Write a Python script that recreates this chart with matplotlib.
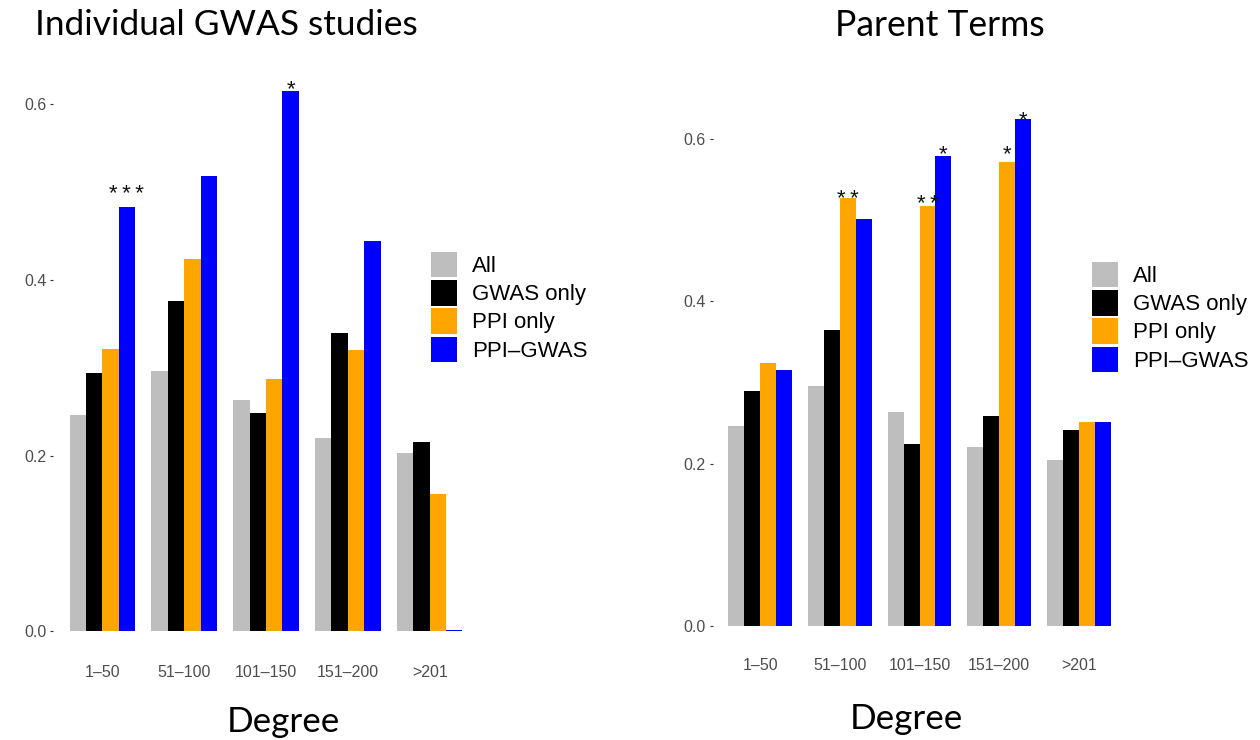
import matplotlib
matplotlib.use("Agg")
import matplotlib.pyplot as plt
import numpy as np

# ---------------- data ----------------
categories = ["1\u201350", "51\u2013100", "101\u2013150", "151\u2013200", ">201"]
series = ["All", "GWAS only", "PPI only", "PPI\u2013GWAS"]
colors = ["#BEBEBE", "#000000", "#FFA500", "#0000FF"]

left_all = [0.246, 0.296, 0.263, 0.220, 0.203]
left_gwas = [0.294, 0.376, 0.249, 0.340, 0.216]
left_ppi = [0.321, 0.424, 0.287, 0.320, 0.156]
left_ppigwas = [0.483, 0.518, 0.615, 0.444, 0.002]

right_all = [0.247, 0.296, 0.264, 0.220, 0.204]
right_gwas = [0.290, 0.365, 0.224, 0.259, 0.242]
right_ppi = [0.324, 0.527, 0.518, 0.572, 0.251]
right_ppigwas = [0.315, 0.501, 0.579, 0.625, 0.251]

# significance labels: (category index, series index, label, star height)
left_sig = [(0, 3, "***", 0.505), (2, 3, "*", 0.625)]
right_sig = [(1, 2, "**", 0.535), (2, 2, "**", 0.528), (2, 3, "*", 0.590),
             (3, 2, "*", 0.590), (3, 3, "*", 0.632)]

yticks = [0.0, 0.2, 0.4, 0.6]
ytick_labels = ["0.0", "0.2", "0.4", "0.6"]

# ---------------- figure ----------------
W, H = 1260, 740
fig = plt.figure(figsize=(W / 100, H / 100), dpi=100)

def px_rect(x0, y0, x1, y1):
    return [x0 / W, 1 - y1 / H, (x1 - x0) / W, (y1 - y0) / H]

tick_font = "Liberation Sans"
group_w = 0.8
bar_w = group_w / 4

def draw_panel(rect, data, sig):
    ax = fig.add_axes(rect)
    x = np.arange(1, len(categories) + 1)
    bars = []
    for j, (vals, c, name) in enumerate(zip(data, colors, series)):
        b = ax.bar(x + (j - 1.5) * bar_w, vals, width=bar_w, color=c,
                   label=name, linewidth=0)
        bars.append(b)
    ymax = max(max(v) for v in data)
    ax.set_ylim(-0.05 * ymax, ymax * 1.05)
    ax.set_xlim(0.4, len(categories) + 0.6)
    ax.set_xticks(x)
    ax.set_xticklabels(categories, fontfamily=tick_font, fontsize=11.5,
                       color="#4D4D4D")
    ax.set_yticks(yticks)
    ax.set_yticklabels(ytick_labels, fontfamily=tick_font, fontsize=11.5,
                       color="#4D4D4D")
    ax.tick_params(axis="x", length=0, pad=5)
    ax.tick_params(axis="y", length=2.5, width=0.8, color="#333333", pad=2.5)
    for s in ax.spines.values():
        s.set_visible(False)
    fs = 16
    for ci, si, lab, yc in sig:
        xc = x[ci] + (si - 1.5) * bar_w
        ax.annotate("\u2009".join(lab), xy=(xc, yc), xytext=(0, -0.575 * fs),
                    textcoords="offset points", ha="center", va="baseline",
                    fontsize=fs, fontfamily=["Liberation Sans", "DejaVu Sans"],
                    color="#111111")
    return ax, bars

axL, barsL = draw_panel(px_rect(53.2, 64.0, 478.8, 658.5),
                        [left_all, left_gwas, left_ppi, left_ppigwas], left_sig)
axR, barsR = draw_panel(px_rect(712.5, 93.3, 1126.6, 651.4),
                        [right_all, right_gwas, right_ppi, right_ppigwas], right_sig)

leg_fs = 16
def add_legend(bars, xpx, ypx_center):
    fig.legend([b[0] for b in bars], series, loc="center left",
               bbox_to_anchor=(xpx / W, 1 - ypx_center / H),
               bbox_transform=fig.transFigure, frameon=False,
               prop={"family": tick_font, "size": leg_fs},
               handlelength=1.15, handleheight=1.39, handletextpad=0.7,
               labelspacing=0.12, borderpad=0, borderaxespad=0)

add_legend(barsL, 431, 307)
add_legend(barsR, 1092.3, 317)

# titles and axis titles
title_font = "Lato"
def fig_text(s, x0, x1, ybase, size):
    t = fig.text(x0 / W, 1 - ybase / H, s, ha="left", va="baseline",
                 fontsize=size, fontfamily=title_font, color="black")
    fig.canvas.draw()
    r = fig.canvas.get_renderer()
    w = t.get_window_extent(r).width
    t.set_fontsize(size * (x1 - x0) / w)
    return t

fig_text("Individual GWAS studies", 35, 418, 35, 24)
fig_text("Parent Terms", 835, 1045, 36.5, 24)
fig_text("Degree", 227, 340, 732, 30)
fig_text("Degree", 850, 963, 729, 30)

fig.savefig("out.png", dpi=100, facecolor="white")
